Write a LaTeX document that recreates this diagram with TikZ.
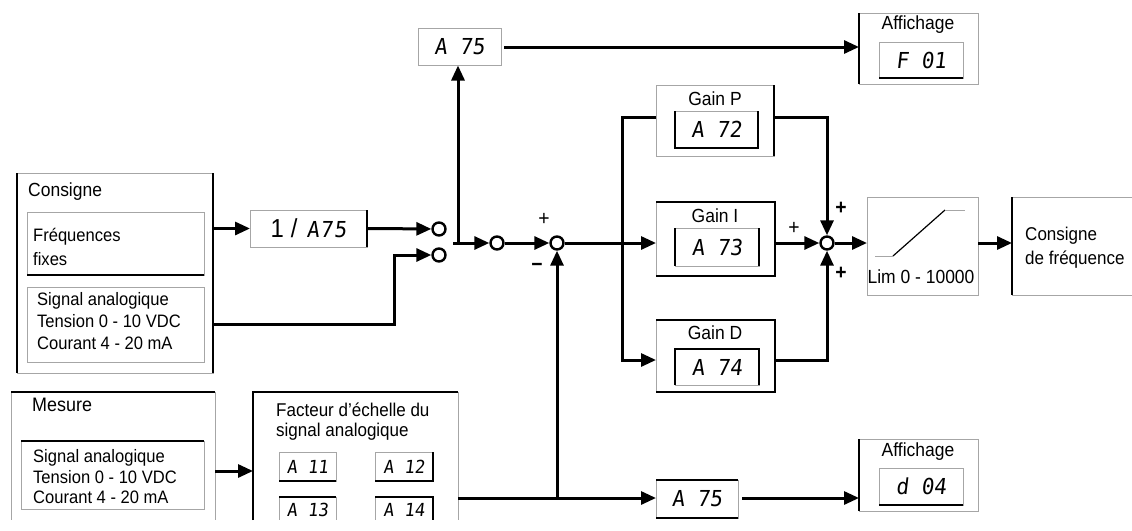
\documentclass[tikz,border=0pt]{standalone}
\usepackage{fontspec}
\setmainfont{Liberation Sans}[FakeStretch=0.92]
\newfontfamily\segfont{DejaVu Sans Mono}[FakeSlant=0.12,FakeStretch=0.95]
\usetikzlibrary{arrows.meta,calc}
\tikzset{
  gl/.style={draw=black!35, line width=0.8pt},
  bk/.style={draw=black, line width=2.9pt},
  conn/.style={line width=3pt},
  arr/.style={conn, -{Triangle[length=15pt,width=13pt]}},
  sumpt/.style={circle, draw, line width=2.4pt, minimum size=13pt, inner sep=0pt, fill=white},
  area/.style={rectangle, inner sep=0pt, outer sep=0pt},
  lbl/.style={font=\fontsize{18}{22}\selectfont, inner sep=0pt, align=left},
  sml/.style={font=\fontsize{19}{20}\selectfont, inner sep=0pt},
  segL/.style={font=\segfont\fontsize{22}{24}\selectfont},
  segS/.style={font=\segfont\fontsize{18}{20}\selectfont},
  pm/.style={font=\bfseries\fontsize{21}{21}\selectfont, inner sep=0pt},
  pt/.style={font=\fontsize{21}{21}\selectfont, inner sep=0pt},
}
\begin{document}
\begin{tikzpicture}[x=1pt,y=-1pt]
\fill[white] (0,0) rectangle (1132,530);
\useasboundingbox (0,0) rectangle (1132,530);

% ---------- Consigne ----------
\node[area, minimum width=196pt, minimum height=200pt] (cons) at (115,273) {};
\draw[gl] (cons.north west) rectangle (cons.south east);
\draw[bk] (cons.north west) -- (cons.south west) (cons.north east) -- (cons.south east);
\node[lbl, anchor=west, font=\fontsize{19}{22}\selectfont] (tCons) at (28,192) {Consigne};

\node[area, minimum width=177pt, minimum height=63pt] (freq) at (115.5,243.5) {};
\draw[gl] (freq.north west) rectangle (freq.south east);
\draw[bk] (freq.south west) -- (freq.south east);
\node[lbl, anchor=west, font=\fontsize{18}{24}\selectfont] (tFreq) at (33,247) {Fréquences\\fixes};

\node[area, minimum width=177pt, minimum height=75pt] (sigA) at (115.5,324.5) {};
\draw[gl] (sigA.north west) rectangle (sigA.south east);
\node[lbl, anchor=west] (tSigA) at (37,321) {Signal analogique\\Tension 0 - 10 VDC\\Courant 4 - 20 mA};

% ---------- 1/A75 ----------
\node[area, minimum width=117pt, minimum height=37pt] (inv) at (308.5,228.5)
  {{\fontsize{26}{26}\selectfont 1\hspace{7pt}/\hspace{9pt}}{\segfont\fontsize{22}{24}\selectfont A\kern1pt7\kern1pt5}};
\draw[gl] (inv.north west) rectangle (inv.south east);
\draw[bk] (inv.north east) -- (inv.south east);

% ---------- switch points ----------
\node[sumpt] (c1) at (439,229) {};
\node[sumpt] (c2) at (439,255) {};
\coordinate (k1) at (394,255);
\coordinate (sw) at (458,243);
\node[sumpt] (c3) at (497,243) {};
\node[sumpt] (c4) at (557,243) {};

% ---------- A75 top + Affichage ----------
\node[area, segL, minimum width=83pt, minimum height=37pt] (a75t) at (459.5,47) {A 75};
\draw[gl] (a75t.north west) rectangle (a75t.south east);

\node[area, minimum width=119pt, minimum height=71pt] (aff1) at (918.5,48.5) {};
\draw[gl] (aff1.north west) rectangle (aff1.south east);
\draw[bk] (aff1.north west) -- (aff1.south west);
\node[sml] (tAff1) at (918,25) {Affichage};
\node[area, segL, minimum width=84pt, minimum height=36pt] (f01) at (921,60) {F 01};
\draw[gl] (f01.north west) rectangle (f01.south east);
\draw[bk] (f01.south west) -- (f01.south east);

% ---------- Gains ----------
\node[area, minimum width=118pt, minimum height=71pt] (gp) at (715,120.5) {};
\draw[gl] (gp.north west) rectangle (gp.south east);
\draw[bk] (gp.north east) -- (gp.south east);
\node[sml] (tGp) at (715,99) {Gain P};
\node[area, segL, minimum width=83pt, minimum height=37pt] (a72) at (716.5,129.5) {A 72};
\draw[gl] (a72.north west) rectangle (a72.south east);
\draw[bk] (a72.north west) -- (a72.south west) -- (a72.south east) -- (a72.north east);

\node[area, minimum width=119pt, minimum height=74pt] (gi) at (715.5,239) {};
\draw[gl] (gi.north west) rectangle (gi.south east);
\draw[bk] (gi.north west) -- (gi.north east) -- (gi.south east) -- (gi.south west);
\node[sml] (tGi) at (715,216) {Gain I};
\node[area, segL, minimum width=84pt, minimum height=38pt] (a73) at (717,247) {A 73};
\draw[gl] (a73.north west) rectangle (a73.south east);
\draw[bk] (a73.north west) -- (a73.south west) (a73.north east) -- (a73.south east);

\node[area, minimum width=119pt, minimum height=72pt] (gd) at (715.5,356) {};
\draw[gl] (gd.north west) rectangle (gd.south east);
\draw[bk] (gd.north west) -- (gd.north east) -- (gd.south east) -- (gd.south west);
\node[sml] (tGd) at (715,333) {Gain D};
\node[area, segL, minimum width=84pt, minimum height=36pt] (a74) at (717,367) {A 74};
\draw[gl] (a74.north west) rectangle (a74.south east);
\draw[bk] (a74.south west) -- (a74.north west) -- (a74.north east) -- (a74.south east);

\node[sumpt] (c5) at (827,243) {};

% ---------- Limiter ----------
\node[area, minimum width=111pt, minimum height=98pt] (lim) at (922.5,246) {};
\draw[gl] (lim.north west) rectangle (lim.south east);
\draw[gl] ($(lim.center)+(-47.5,10)$) -- ($(lim.center)+(-29.5,10)$);
\draw[line width=1.2pt] ($(lim.center)+(-29.5,10)$) -- ($(lim.center)+(22.5,-36)$);
\draw[gl] ($(lim.center)+(22.5,-36)$) -- ($(lim.center)+(42.5,-36)$);
\node[sml] (tLim) at (921,277) {Lim 0 - 10000};

% ---------- Consigne de frequence ----------
\node[area, minimum width=128pt, minimum height=98pt] (cf) at (1076,246) {};
\draw[gl] (cf.north west) -- (1132,197) (cf.south west) -- (1132,295);
\draw[bk] (cf.north west) -- (cf.south west);
\node[lbl, anchor=west, font=\fontsize{18.5}{24}\selectfont] (tCf) at (1025,248) {Consigne\\de fréquence};

% ---------- Mesure ----------
\node[area, minimum width=204pt, minimum height=128pt] (mes) at (113,456) {};
\draw[gl] (mes.north west) -- (mes.south west) (mes.north east) -- (mes.south east);
\draw[bk] (mes.north west) -- (mes.north east);
\node[lbl, anchor=west, font=\fontsize{19.5}{22}\selectfont] (tMes) at (32,405) {Mesure};
\node[area, minimum width=183pt, minimum height=68pt] (msig) at (112.5,475) {};
\draw[gl] (msig.north west) rectangle (msig.south east);
\draw[bk] (msig.north west) -- (msig.north east);
\node[lbl, anchor=west, font=\fontsize{18}{20.5}\selectfont] (tMsig) at (33,477) {Signal analogique\\Tension 0 - 10 VDC\\Courant 4 - 20 mA};

% ---------- Facteur d'echelle ----------
\node[area, minimum width=205pt, minimum height=128pt] (fac) at (355.5,456) {};
\draw[gl] (fac.north east) -- (fac.south east);
\draw[bk] (fac.south west) -- (fac.north west) -- (fac.north east);
\node[lbl, anchor=west, font=\fontsize{18.5}{20}\selectfont] (tFac) at (276,422) {Facteur d'échelle du\\signal analogique};
\node[area, segS, minimum width=57pt, minimum height=29pt] (a11) at (307.5,466.5) {A 11};
\draw[gl] (a11.north west) rectangle (a11.south east);
\draw[bk] (a11.south west) -- (a11.south east);
\node[area, segS, minimum width=58pt, minimum height=29pt] (a12) at (404,466.5) {A 12};
\draw[gl] (a12.north west) rectangle (a12.south east);
\draw[bk] (a12.south west) -- (a12.south east) -- (a12.north east);
\node[area, segS, minimum width=57pt, minimum height=26pt] (a13) at (307.5,510) {A 13};
\draw[gl] (a13.north west) -- (a13.west |- 0,520) (a13.north east) -- (a13.east |- 0,520);
\draw[bk] (a13.north west) -- (a13.north east);
\node[area, segS, minimum width=58pt, minimum height=26pt] (a14) at (404,510) {A 14};
\draw[gl] (a14.north west) -- (a14.west |- 0,520);
\draw[bk] (a14.north west) -- (a14.north east) -- (a14.east |- 0,520);

% ---------- bottom A75 + Affichage ----------
\node[area, segL, minimum width=82pt, minimum height=38pt] (a75b) at (697,499) {A 75};
\draw[gl] (a75b.north west) rectangle (a75b.south east);
\draw[bk] (a75b.north west) -- (a75b.north east) (a75b.south west) -- (a75b.south east);

\node[area, minimum width=119pt, minimum height=72pt] (aff2) at (918.5,475) {};
\draw[gl] (aff2.north west) rectangle (aff2.south east);
\draw[bk] (aff2.north west) -- (aff2.south west);
\node[sml] (tAff2) at (918,452) {Affichage};
\node[area, segL, minimum width=84pt, minimum height=37pt] (d04) at (921,486.5) {d 04};
\draw[gl] (d04.north west) rectangle (d04.south east);
\draw[bk] (d04.south west) -- (d04.south east);

% ---------- connectors ----------
\draw[arr] (inv.west -| cons.east) -- (inv.west);
\draw[arr] (inv.east) -- (c1);
\draw[arr] (sigA.east -| cons.east) -- (k1 |- sigA.east) -- (k1) -- (c2);
\draw[arr] (sw) -- (sw |- a75t.south);
\draw[arr] ([xshift=-5pt]sw) -- (c3);
\draw[arr] ([xshift=3pt]a75t.east) -- (a75t.east -| aff1.west);
\draw[arr] (c3) -- (c4);
\draw[arr] (c4) -- (c4 -| gi.west);
\coordinate (bT) at (622,117);
\coordinate (bB) at (622,360);
\draw[arr] (bT -| gp.west) -- (bT) -- (bB) -- (bB -| gd.west);
\draw[arr] (gp.east |- bT) -- (c5 |- bT) -- (c5);
\draw[arr] (gd.east |- bB) -- (c5 |- bB) -- (c5);
\draw[arr] (gi.east |- c5) -- (c5);
\draw[arr] (c5) -- (c5 -| lim.west);
\draw[arr] (lim.east |- c5) -- (c5 -| cf.west);
\coordinate (mY) at (0,471);
\draw[arr] (mes.east |- mY) -- (fac.west |- mY);
\coordinate (jB) at (557,498);
\draw[conn] (fac.east |- jB) -- (jB);
\draw[arr] (jB) -- (jB -| a75b.west);
\draw[arr] (jB) -- (c4);
\draw[arr] ([xshift=4pt]a75b.east |- jB) -- (jB -| aff2.west);

% ---------- signs ----------
\node[pt] (p1) at (544,219) {+};
\node[pm] (m1) at (537,267) {−};
\node[pt] (p2) at (794,228) {+};
\node[pm] (p3) at (841,208) {+};
\node[pm] (p4) at (841,273) {+};
\end{tikzpicture}
\end{document}
